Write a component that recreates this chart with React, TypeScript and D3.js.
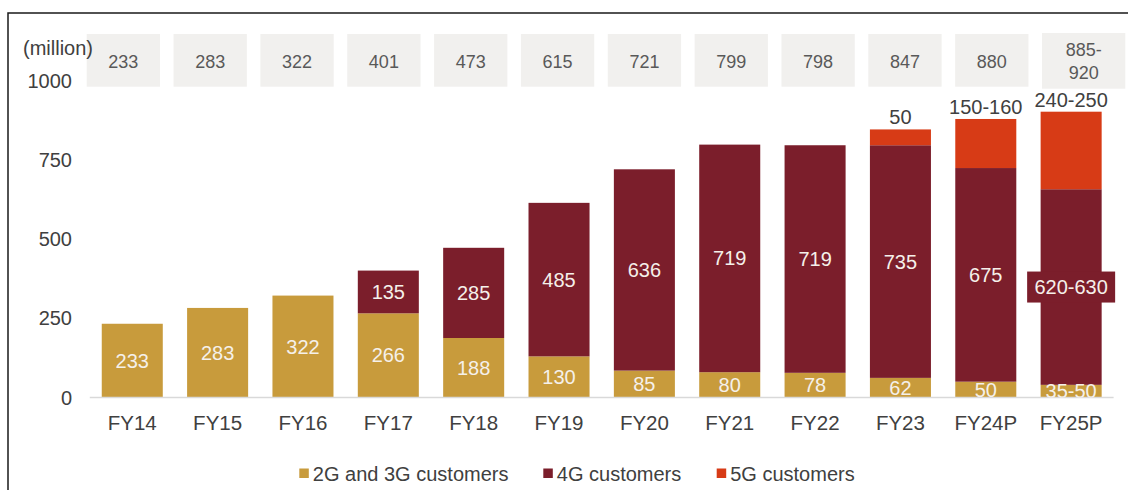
import * as d3 from 'd3';

// values in million customers
const years = ['FY14', 'FY15', 'FY16', 'FY17', 'FY18', 'FY19', 'FY20', 'FY21', 'FY22', 'FY23', 'FY24P', 'FY25P'];
const totalLabels = ['233', '283', '322', '401', '473', '615', '721', '799', '798', '847', '880', '885-\n920'];
const users2g3g = [233, 283, 322, 266, 188, 130, 85, 80, 78, 62, 50, 40];
const users4g = [0, 0, 0, 135, 285, 485, 636, 719, 719, 735, 675, 618];
const users5g = [0, 0, 0, 0, 0, 0, 0, 0, 0, 50, 155, 245];
const labels2g3g = ['233', '283', '322', '266', '188', '130', '85', '80', '78', '62', '50', '35-50'];
const labels4g = ['', '', '', '135', '285', '485', '636', '719', '719', '735', '675', '620-630'];
const labels5g = ['', '', '', '', '', '', '', '', '', '50', '150-160', '240-250'];
const yTicks = [0, 250, 500, 750, 1000];

const seriesKeys = ['g23', 'g4', 'g5'];
const seriesNames = ['2G and 3G customers', '4G customers', '5G customers'];
const colors = ['#C89B3C', '#7B1E2B', '#D73B16'];

const W = 1128;
const H = 490;
const FONT = '"Liberation Sans", Arial, sans-serif';

export default function App() {
  const rows = years.map((y, i) => ({ year: y, g23: users2g3g[i], g4: users4g[i], g5: users5g[i] }));
  const stacked = d3.stack<any>().keys(seriesKeys)(rows);

  const x = d3.scaleBand().domain(years).range([89.8, 1113.6]).paddingInner(0.285).paddingOuter(0.14);
  const y = d3.scaleLinear().domain([0, 1000]).range([397.5, 81]);
  const boxX = d3.scaleBand().domain(years).range([86.7, 1115.3]).paddingInner(0.156).paddingOuter(0);
  const legendX = d3.scaleOrdinal<string, number>().domain(seriesNames).range([299.3, 543.3, 716.7]);

  const segLabels = [labels2g3g, labels4g];

  return (
    <svg width={W} height={H} style={{ position: 'absolute', left: 0, top: 0, fontFamily: FONT }}>
      <defs>
        <clipPath id="plot">
          <rect x={0} y={0} width={W} height={y(0)} />
        </clipPath>
      </defs>
      <rect x={0} y={0} width={W} height={H} fill="#fff" />
      {/* frame */}
      <path d={`M8,${H + 2} V13 H${W + 2}`} fill="none" stroke="#1a1a1a" strokeWidth={1.5} />

      {/* total boxes */}
      {years.map((yr, i) => {
        const last = i === years.length - 1;
        const bx = boxX(yr)!;
        const bw = boxX.bandwidth() + (last ? 10 : 0);
        const lines = totalLabels[i].split('\n');
        return (
          <g key={yr}>
            <rect x={bx} y={last ? 33 : 34} width={bw} height={last ? 55.7 : 52.7} fill="#F1F0EE" />
            {lines.map((t, j) => (
              <text key={j} x={bx + bw / 2} y={lines.length > 1 ? 49.5 + j * 23.5 : 61.7} dy="0.35em"
                textAnchor="middle" fontSize={18} fill="#595959">{t}</text>
            ))}
          </g>
        );
      })}

      <text x={23} y={48} dy="0.35em" fontSize={20} fill="#404040">(million)</text>

      {/* y axis labels */}
      {yTicks.map(t => (
        <text key={t} x={72} y={y(t)} dy="0.35em" textAnchor="end" fontSize={20} fill="#404040">{t}</text>
      ))}

      {/* bars */}
      {stacked.map((s, si) => (
        <g key={s.key} fill={colors[si]}>
          {s.map((d, i) => d[1] - d[0] > 0 ? (
            <rect key={i} x={x(years[i])} y={y(d[1])} width={x.bandwidth()} height={y(d[0]) - y(d[1])} />
          ) : null)}
        </g>
      ))}

      {/* baseline */}
      <line x1={x.range()[0]} x2={x.range()[1]} y1={y(0)} y2={y(0)} stroke="#D9D9D9" strokeWidth={1.5} />

      {/* segment labels */}
      <g clipPath="url(#plot)">
        {segLabels.map((labs, si) => stacked[si].map((d, i) => {
          if (!labs[i]) return null;
          const cx = x(years[i])! + x.bandwidth() / 2;
          const cy = (y(d[0]) + y(d[1])) / 2;
          const wide = labs[i].length > 5;
          return (
            <g key={`${si}-${i}`}>
              {wide && si === 1 ? (
                <rect x={cx - 44} y={cy - 15.5} width={88} height={31} fill={colors[1]} />
              ) : null}
              <text x={cx} y={cy} dy="0.35em" textAnchor="middle" fontSize={20} fill="#F5F0EA">{labs[i]}</text>
            </g>
          );
        }))}
      </g>

      {/* 5G labels above bars */}
      {stacked[2].map((d, i) => labels5g[i] ? (
        <text key={i} x={x(years[i])! + x.bandwidth() / 2} y={y(d[1]) - 5} textAnchor="middle"
          fontSize={20} fill="#404040">{labels5g[i]}</text>
      ) : null)}

      {/* x axis labels */}
      {years.map(yr => (
        <text key={yr} x={x(yr)! + x.bandwidth() / 2} y={423} dy="0.35em" textAnchor="middle"
          fontSize={20.5} fill="#404040">{yr}</text>
      ))}

      {/* legend */}
      {seriesNames.map((n, i) => (
        <g key={n}>
          <rect x={legendX(n)} y={468.5} width={9.5} height={9.5} fill={colors[i]} />
          <text x={legendX(n) + 13.5} y={473.5} dy="0.35em" fontSize={20} fill="#404040">{n}</text>
        </g>
      ))}
    </svg>
  );
}
